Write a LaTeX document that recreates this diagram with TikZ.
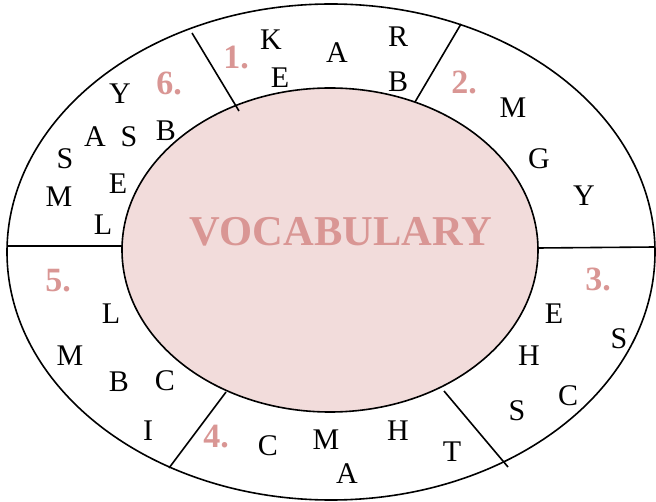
\documentclass[tikz,border=0pt]{standalone}
\usepackage{fontspec}
\setmainfont{Liberation Serif}
\definecolor{rosy}{HTML}{D99694}
\definecolor{blush}{HTML}{F2DCDB}
\tikzset{every path/.style={line width=1.6pt},
  letter/.style={inner sep=0pt, font=\fontsize{30}{30}\selectfont},
  num/.style={inner sep=0pt, text=rosy, font=\fontsize{34}{34}\selectfont\bfseries}}

\begin{document}
\begin{tikzpicture}[x=1pt,y=-1pt]
   \useasboundingbox (0,0) rectangle (656,502);
   % rings
   \draw (331,252) ellipse [x radius=324, y radius=248];
   \draw[fill=blush] (330,250) ellipse [x radius=208, y radius=162];
   % dividers
   \draw (192,33)  -- (239,111);
   \draw (461,24)  -- (415,102);
   \draw (538,248) -- (655,247);
   \draw (444,391) -- (508,467);
   \draw (226,392) -- (169,468);
   \draw (7,246)   -- (122,246);
   % title
   \node[inner sep=0pt, text=rosy, font=\fontsize{42.5}{42.5}\selectfont\bfseries] (title) at (341,232) {VOCABULARY};
   % numbers
   \node[num] (n1) at (236,58)  {1.};
   \node[num] (n2) at (464,82)  {2.};
   \node[num] (n3) at (598,279) {3.};
   \node[num] (n4) at (216,437) {4.};
   \node[num] (n5) at (58,281)  {5.};
   \node[num] (n6) at (169,83)  {6.};
   % part 1
   \node[letter] (a1) at (271,40)  {K};
   \node[letter] (a2) at (280,78)  {E};
   \node[letter] (a3) at (337,53)  {A};
   \node[letter] (a4) at (398,37)  {R};
   \node[letter] (a5) at (398,82)  {B};
   % part 2
   \node[letter] (b1) at (513,108) {M};
   \node[letter] (b2) at (539,159) {G};
   \node[letter] (b3) at (584,196) {Y};
   % part 3
   \node[letter] (c1) at (554,314) {E};
   \node[letter] (c2) at (619,339) {S};
   \node[letter] (c3) at (529,356) {H};
   \node[letter] (c4) at (568,396) {C};
   \node[letter] (c5) at (517,411) {S};
   % part 4
   \node[letter] (d1) at (268,446) {C};
   \node[letter] (d2) at (326,440) {M};
   \node[letter] (d3) at (398,431) {H};
   \node[letter] (d4) at (452,452) {T};
   \node[letter] (d5) at (347,474) {A};
   % part 5
   \node[letter] (e1) at (111,314) {L};
   \node[letter] (e2) at (70,356)  {M};
   \node[letter] (e3) at (119,382) {B};
   \node[letter] (e4) at (165,381) {C};
   \node[letter] (e5) at (148,431) {I};
   % part 6
   \node[letter] (f1) at (120,94)  {Y};
   \node[letter] (f2) at (95,137)  {A};
   \node[letter] (f3) at (129,137) {S};
   \node[letter] (f4) at (166,131) {B};
   \node[letter] (f5) at (65,159)  {S};
   \node[letter] (f6) at (118,184) {E};
   \node[letter] (f7) at (59,197)  {M};
   \node[letter] (f8) at (103,225) {L};
\end{tikzpicture}
\end{document}
